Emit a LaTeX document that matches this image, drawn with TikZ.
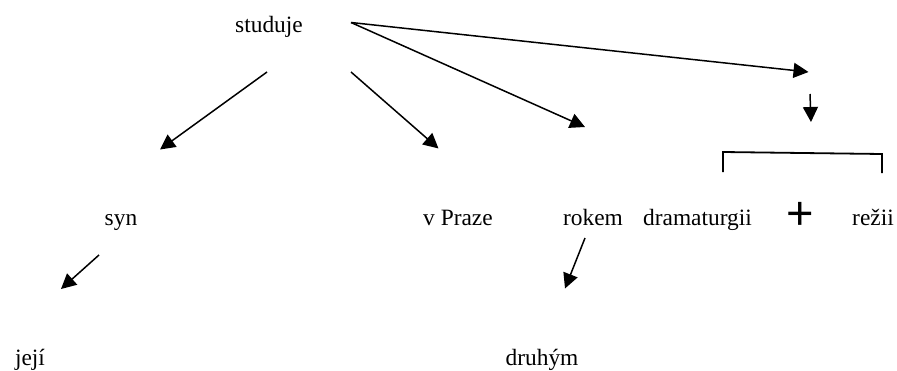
\documentclass[tikz,border=0pt]{standalone}
\usepackage{fontspec}
\setmainfont{Liberation Serif}
\newfontfamily\plusfont{Liberation Sans}
\usetikzlibrary{arrows.meta}
\tikzset{
  word/.style={inner sep=0pt, anchor=base, font=\fontsize{23.4}{28}\selectfont},
  plussign/.style={inner sep=0pt, font=\plusfont\fontsize{47}{50}\selectfont},
  link/.style={line width=1.5pt, -{Triangle[length=15pt,width=15pt]}},
  bracketline/.style={line width=1.8pt}
}
\begin{document}
\begin{tikzpicture}[x=1pt,y=-1pt]
  \useasboundingbox (0,0) rectangle (897,370);

  % words of the tree
  \node[word] (studuje) at (269,32) {studuje};
  \node[word] (syn) at (121,225.5) {syn};
  \node[word] (praze) at (458,225.5) {v Praze};
  \node[word] (rokem) at (593,225.5) {rokem};
  \node[word] (drama) at (697.5,225.5) {dramaturgii};
  \node[word] (rezii) at (873,225.5) {režii};
  \node[word] (jeji) at (30,365) {její};
  \node[word] (druhym) at (542,365) {druhým};
  \node[plussign] (plus) at (800.5,215.5) {+};

  % arrow end points
  \coordinate (s1) at (267,72);   \coordinate (t1) at (160,149.5);
  \coordinate (s2) at (351,72);   \coordinate (t2) at (438.5,148.5);
  \coordinate (s3) at (351,22.5); \coordinate (t3) at (585,127);
  \coordinate (t4) at (808.5,72);
  \coordinate (s5) at (810,94);   \coordinate (t5) at (811,122);
  \coordinate (s6) at (99,255);   \coordinate (t6) at (61,289);
  \coordinate (s7) at (585,238);  \coordinate (t7) at (565,288.5);

  \draw[link] (s1) -- (t1);
  \draw[link] (s2) -- (t2);
  \draw[link] (s3) -- (t3);
  \draw[link] (s3) -- (t4);
  \draw[link] (s5) -- (t5);
  \draw[link] (s6) -- (t6);
  \draw[link] (s7) -- (t7);

  % bracket over the coordination
  \coordinate (b1) at (723,172); \coordinate (b2) at (723,152);
  \coordinate (b3) at (882,154); \coordinate (b4) at (882,173);
  \draw[bracketline] (b1) -- (b2) -- (b3) -- (b4);
\end{tikzpicture}
\end{document}
